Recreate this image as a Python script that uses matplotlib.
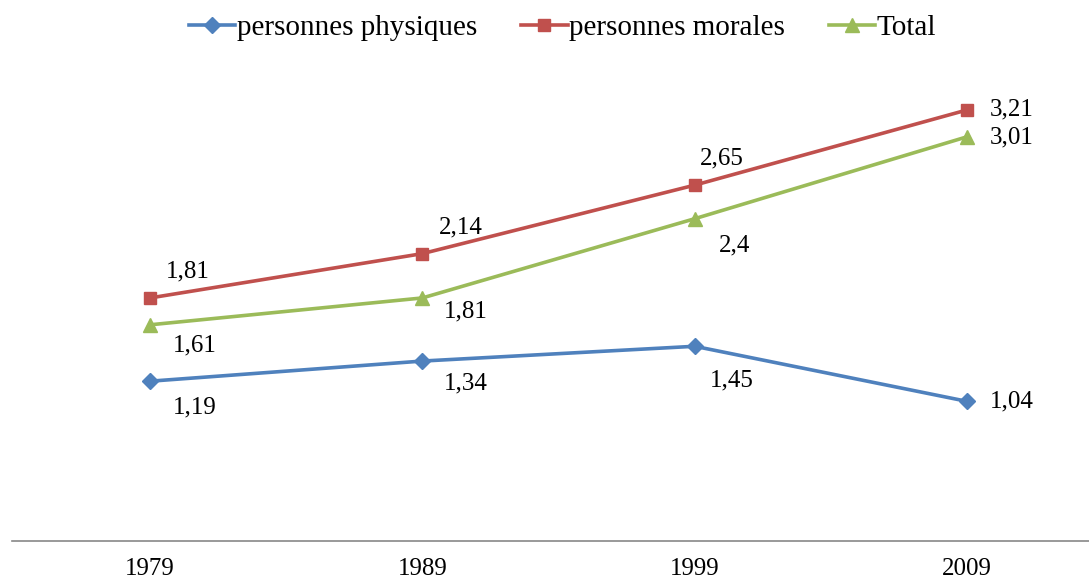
import matplotlib.pyplot as plt

plt.rcParams['font.family'] = ['Liberation Serif', 'DejaVu Serif']

years = ['1979', '1989', '1999', '2009']
physiques = [1.19, 1.34, 1.45, 1.04]
morales = [1.81, 2.14, 2.65, 3.21]
total = [1.61, 1.81, 2.4, 3.01]

# label offsets in pixels (dx, dy, ha)
off_phys = [(45, -26, 'center'), (43, -22, 'center'), (37, -34, 'center'), (23, 0, 'left')]
off_mor = [(38, 26, 'center'), (38, 26, 'center'), (27, 27, 'center'), (23, 0, 'left')]
off_tot = [(45, -21, 'center'), (43, -14, 'center'), (40, -27, 'center'), (23, -1, 'left')]

fig = plt.figure(figsize=(10.89, 5.83), dpi=100)
ax = fig.add_axes([12 / 1089, 42 / 583, 1 - 12 / 1089, 470 / 583])

x = list(range(len(years)))
series = [
    (physiques, 'personnes physiques', '#4F81BD', 'D', 8, off_phys),
    (morales, 'personnes morales', '#C0504D', 's', 9, off_mor),
    (total, 'Total', '#9BBB59', '^', 10, off_tot),
]
for vals, name, col, mk, ms, offs in series:
    ax.plot(x, vals, color=col, lw=2.6, marker=mk, markersize=ms, label=name)
    for xi, v, (dx, dy, ha) in zip(x, vals, offs):
        ax.annotate(f"{v:g}".replace('.', ','), (xi, v), textcoords='offset pixels',
                    xytext=(dx, dy), ha=ha, va='center', fontsize=18)

ax.set_xlim(-0.507, 3.448)
ax.set_ylim(0, 3.5)
ax.set_xticks(x)
ax.set_xticklabels(years, fontsize=18)
ax.tick_params(axis='x', length=0, pad=12)
ax.set_yticks([])
for s in ['top', 'right', 'left']:
    ax.spines[s].set_visible(False)
ax.spines['bottom'].set_color('#888888')
ax.spines['bottom'].set_linewidth(1.2)

ax.legend(loc='center', bbox_to_anchor=(0.5 + 12 / 1077, 1 + 43 / 470), ncol=3, frameon=False,
          fontsize=21, handlelength=1.6, handletextpad=0.05, columnspacing=1.5,
          borderaxespad=0)

fig.savefig('out.png', dpi=100)
